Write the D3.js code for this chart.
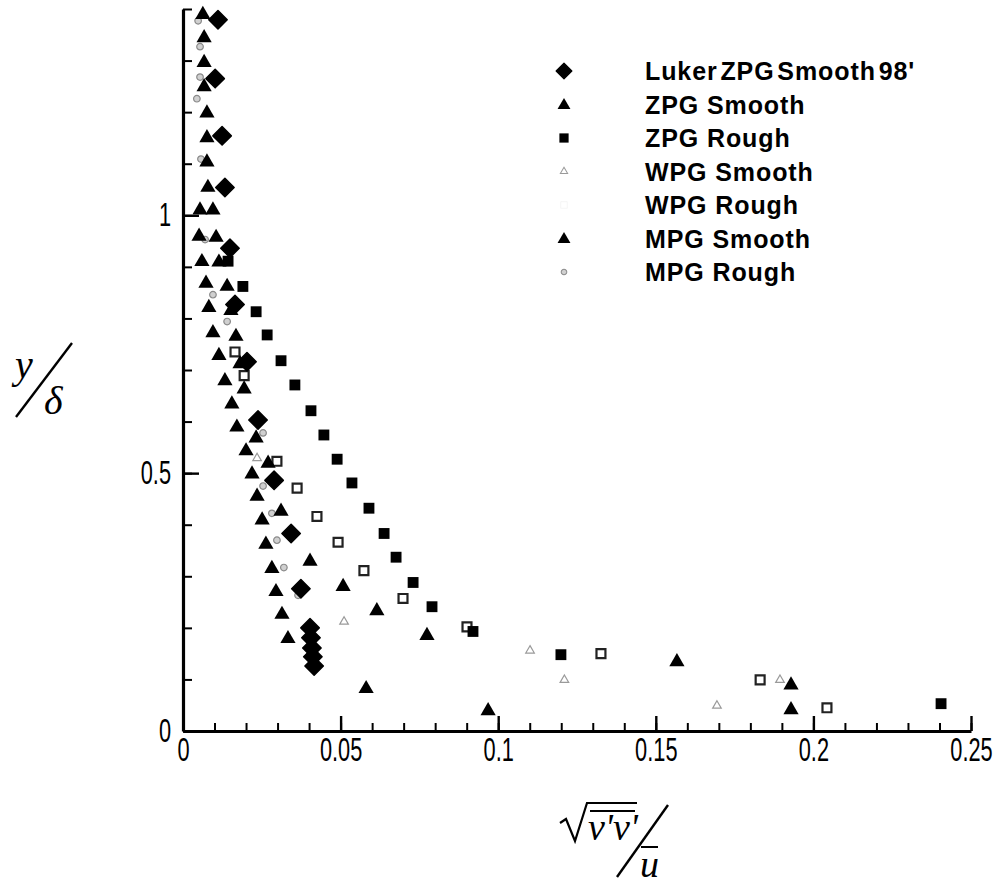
<!DOCTYPE html>
<html>
<head>
<meta charset="utf-8">
<script src="https://cdn.jsdelivr.net/npm/d3@7"></script>
<style>
  html, body { margin: 0; padding: 0; background: #fff; }
  svg { display: block; }
</style>
</head>
<body>
<svg id="chart" width="1003" height="884"></svg>
<script>
// Wall-normal rms velocity v' (normalised by mean u) vs. y/delta

const xTicksMajor = [0, 0.05, 0.1, 0.15, 0.2, 0.25];
const xTickLabels = ["0", "0.05", "0.1", "0.15", "0.2", "0.25"];
const yTicksMajor = [0, 0.5, 1];
const yTickLabels = ["0", "0.5", "1"];

const legendLabels = [
  "Luker ZPG Smooth 98'", "ZPG Smooth", "ZPG Rough",
  "WPG Smooth", "WPG Rough", "MPG Smooth", "MPG Rough"
];

// [sqrt(v'v')/u, y/delta]
const lukerZpgSmooth98 = [
  [0.0111, 1.379], [0.0102, 1.265], [0.0124, 1.154], [0.0133, 1.054],
  [0.0149, 0.936], [0.0165, 0.827], [0.0203, 0.716], [0.0238, 0.603],
  [0.0289, 0.486], [0.0343, 0.383], [0.0374, 0.276], [0.0403, 0.200],
  [0.0406, 0.181], [0.0409, 0.161], [0.0412, 0.144], [0.0416, 0.126]
];
const zpgSmooth = [
  [0.0054, 1.012], [0.0051, 0.961], [0.0060, 0.912], [0.0073, 0.870],
  [0.0082, 0.823], [0.0095, 0.774], [0.0114, 0.730], [0.0133, 0.681],
  [0.0155, 0.636], [0.0171, 0.591], [0.0200, 0.545], [0.0219, 0.500],
  [0.0235, 0.457], [0.0251, 0.411], [0.0263, 0.364], [0.0282, 0.317],
  [0.0295, 0.272], [0.0314, 0.228], [0.0333, 0.181], [0.0581, 0.084],
  [0.0968, 0.041]
];
const zpgRough = [
  [0.0143, 0.911], [0.0190, 0.862], [0.0232, 0.813], [0.0267, 0.768],
  [0.0311, 0.718], [0.0355, 0.671], [0.0406, 0.621], [0.0447, 0.574],
  [0.0489, 0.527], [0.0536, 0.481], [0.0590, 0.432], [0.0638, 0.383],
  [0.0676, 0.337], [0.0730, 0.288], [0.0790, 0.241], [0.0920, 0.193],
  [0.1199, 0.148], [0.2405, 0.053]
];
const wpgSmooth = [
  [0.0235, 0.529], [0.0511, 0.212], [0.1101, 0.156], [0.1210, 0.099],
  [0.1894, 0.099], [0.1694, 0.049]
];
const wpgRough = [
  [0.0165, 0.735], [0.0194, 0.689], [0.0298, 0.523], [0.0362, 0.471],
  [0.0425, 0.416], [0.0492, 0.366], [0.0574, 0.311], [0.0698, 0.257],
  [0.0901, 0.202], [0.1326, 0.150], [0.1831, 0.099], [0.2043, 0.045]
];
const mpgSmooth = [
  [0.0063, 1.391], [0.0067, 1.346], [0.0067, 1.298], [0.0067, 1.251],
  [0.0076, 1.200], [0.0076, 1.152], [0.0076, 1.105], [0.0079, 1.056],
  [0.0095, 1.012], [0.0105, 0.959], [0.0114, 0.911], [0.0140, 0.864],
  [0.0152, 0.817], [0.0168, 0.767], [0.0181, 0.714], [0.0194, 0.665],
  [0.0232, 0.570], [0.0270, 0.521], [0.0311, 0.428], [0.0403, 0.331],
  [0.0508, 0.282], [0.0615, 0.235], [0.0774, 0.187], [0.1567, 0.136],
  [0.1929, 0.091], [0.1929, 0.043]
];
const mpgRough = [
  [0.0048, 1.377], [0.0054, 1.327], [0.0054, 1.268], [0.0044, 1.226],
  [0.0057, 1.109], [0.0070, 0.953], [0.0095, 0.846], [0.0140, 0.794],
  [0.0254, 0.578], [0.0254, 0.475], [0.0282, 0.422], [0.0298, 0.370],
  [0.0320, 0.317], [0.0365, 0.263]
];

const svg = d3.select("#chart");

const x = d3.scaleLinear().domain([0, 0.25]).range([183, 971]);
const y = d3.scaleLinear().domain([0, 1.4]).range([731, 9]);

const labelFont = "'Liberation Sans', Arial, sans-serif";

// ---- axes ----
const xMinor = d3.range(0, 0.2501, 0.01);
const yMinor = d3.range(0, 1.4001, 0.1);

svg.append("g")
  .attr("transform", `translate(0,${y(0)})`)
  .call(d3.axisBottom(x).tickValues(xMinor).tickSize(-8).tickSizeOuter(0).tickFormat(""))
  .call(g => g.select(".domain").remove())
  .call(g => g.selectAll("line").attr("stroke", "#000").attr("stroke-width", 2));

svg.append("g")
  .attr("transform", `translate(${x(0)},0)`)
  .call(d3.axisLeft(y).tickValues(yMinor).tickSize(-9).tickSizeOuter(0).tickFormat(""))
  .call(g => g.select(".domain").remove())
  .call(g => g.selectAll("line").attr("stroke", "#000").attr("stroke-width", 2));

const xAxis = svg.append("g")
  .attr("transform", `translate(0,${y(0)})`)
  .call(d3.axisBottom(x).tickValues(xTicksMajor).tickSize(-15).tickSizeOuter(0)
    .tickPadding(7).tickFormat((d, i) => xTickLabels[i]));
xAxis.select(".domain").attr("stroke", "#000").attr("stroke-width", 3.2);
xAxis.selectAll("line").attr("stroke", "#000").attr("stroke-width", 2.4);
xAxis.selectAll("text")
  .attr("font-family", labelFont).attr("font-size", 33).attr("fill", "#000")
  .attr("transform", "scale(0.66,1)");

const yAxis = svg.append("g")
  .attr("transform", `translate(${x(0)},0)`)
  .call(d3.axisLeft(y).tickValues(yTicksMajor).tickSize(-16).tickSizeOuter(0)
    .tickPadding(0).tickFormat((d, i) => yTickLabels[i]));
yAxis.select(".domain").attr("stroke", "#000").attr("stroke-width", 3.2);
yAxis.selectAll("line").attr("stroke", "#000").attr("stroke-width", 2.4);
yAxis.selectAll("text")
  .attr("x", 0)
  .attr("font-family", labelFont).attr("font-size", 33).attr("fill", "#000")
  .attr("transform", "translate(-12,0) scale(0.66,1)");

// ---- marker styles ----
const markerStyles = {
  luker: { draw: (g) => g.append("path").attr("d", d3.symbol(d3.symbolSquare, 170)())
             .attr("transform", "rotate(45)").attr("fill", "#000")
             .attr("stroke", "#000").attr("stroke-width", 1.5).attr("stroke-linejoin", "round") },
  triangle: { draw: (g) => g.append("path").attr("d", d3.symbol(d3.symbolTriangle, 100)())
             .attr("transform", "translate(0,1)").attr("fill", "#000") },
  square: { draw: (g) => g.append("path").attr("d", d3.symbol(d3.symbolSquare, 118)())
             .attr("fill", "#000") },
  faintTriangle: { draw: (g) => g.append("path").attr("d", d3.symbol(d3.symbolTriangle, 32)())
             .attr("fill", "none").attr("stroke", "#9a9a9a").attr("stroke-width", 1.2) },
  hollowSquare: { draw: (g) => g.append("path").attr("d", d3.symbol(d3.symbolSquare, 80)())
             .attr("fill", "none").attr("stroke", "#222").attr("stroke-width", 2.2) },
  faintCircle: { draw: (g) => g.append("path").attr("d", d3.symbol(d3.symbolCircle, 34)())
             .attr("fill", "#d0d0d0").attr("stroke", "#8a8a8a").attr("stroke-width", 1.2) }
};

const series = [
  { name: legendLabels[0], data: lukerZpgSmooth98, style: "luker" },
  { name: legendLabels[1], data: zpgSmooth, style: "triangle" },
  { name: legendLabels[2], data: zpgRough, style: "square" },
  { name: legendLabels[3], data: wpgSmooth, style: "faintTriangle" },
  { name: legendLabels[4], data: wpgRough, style: "hollowSquare" },
  { name: legendLabels[5], data: mpgSmooth, style: "triangle" },
  { name: legendLabels[6], data: mpgRough, style: "faintCircle" }
];

// draw faint series first, solid markers on top
const drawOrder = [6, 3, 4, 2, 1, 5, 0];
drawOrder.forEach(i => {
  const s = series[i];
  const g = svg.append("g").attr("class", "series");
  g.selectAll("g.pt").data(s.data).join("g")
    .attr("class", "pt")
    .attr("transform", d => `translate(${x(d[0])},${y(d[1])})`)
    .each(function () { markerStyles[s.style].draw(d3.select(this)); });
});

// ---- legend ----
const legendRowY = d3.scaleLinear().domain([0, 6]).range([71, 272]);
const legend = svg.append("g");
series.forEach((s, i) => {
  const row = legend.append("g").attr("transform", `translate(0,${legendRowY(i)})`);
  const mk = row.append("g").attr("transform", "translate(564,0) scale(0.85)");
  if (s.style === "hollowSquare") {
    mk.append("path").attr("d", d3.symbol(d3.symbolSquare, 60)())
      .attr("fill", "none").attr("stroke", "#f4f4f4").attr("stroke-width", 1);
  } else {
    markerStyles[s.style].draw(mk);
  }
  row.append("text")
    .attr("x", 645).attr("y", 9)
    .attr("font-family", labelFont).attr("font-weight", "bold")
    .attr("font-size", 25).attr("letter-spacing", 0.9)
    .attr("word-spacing", i === 0 ? -5 : 0)
    .attr("fill", "#000")
    .text(s.name);
});

// ---- axis titles ----
const serif = "'Liberation Serif', 'Times New Roman', serif";

// y / delta
const yTitle = svg.append("g");
yTitle.append("text").attr("x", 15).attr("y", 378)
  .attr("font-family", serif).attr("font-style", "italic").attr("font-size", 40)
  .text("y");
yTitle.append("line").attr("x1", 16).attr("y1", 417).attr("x2", 72).attr("y2", 343)
  .attr("stroke", "#000").attr("stroke-width", 2.4);
yTitle.append("text").attr("x", 44).attr("y", 414)
  .attr("font-family", serif).attr("font-style", "italic").attr("font-size", 40)
  .text("δ");

// sqrt(v'v') / u
const xTitle = svg.append("g");
xTitle.append("path")
  .attr("d", "M560,823 L566,819 L575,841 L587,803 L637,803")
  .attr("fill", "none").attr("stroke", "#000").attr("stroke-width", 2.2);
xTitle.append("line").attr("x1", 590).attr("y1", 811).attr("x2", 635).attr("y2", 811)
  .attr("stroke", "#000").attr("stroke-width", 2);
xTitle.append("text").attr("x", 588).attr("y", 840)
  .attr("font-family", serif).attr("font-style", "italic").attr("font-size", 38)
  .text("v'v'");
xTitle.append("line").attr("x1", 668).attr("y1", 805).attr("x2", 617).attr("y2", 877)
  .attr("stroke", "#000").attr("stroke-width", 2.4);
xTitle.append("line").attr("x1", 641).attr("y1", 847).attr("x2", 658).attr("y2", 847)
  .attr("stroke", "#000").attr("stroke-width", 2);
xTitle.append("text").attr("x", 640).attr("y", 877)
  .attr("font-family", serif).attr("font-style", "italic").attr("font-size", 38)
  .text("u");
</script>
</body>
</html>
